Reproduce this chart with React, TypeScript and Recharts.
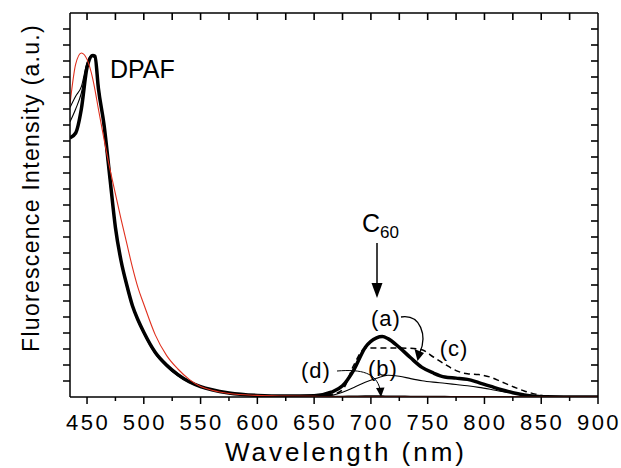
import React from "react";
import { LineChart, Line, XAxis, YAxis, Customized } from "recharts";

// wavelength grid (nm), shared by all spectra
const wavelengths = [
  435, 440, 445, 450, 455, 457, 460, 465, 470, 475, 480, 485, 490, 495, 500, 510, 520, 530, 540, 550,
  560, 575, 600, 625, 650, 665, 675, 685, 695, 705, 710, 715, 725, 735, 745, 755, 765, 775, 785, 795,
  805, 815, 825, 835, 845, 855, 870, 885, 900,
];

// DPAF reference (red)
const dpaf = [
  18.3, 20.8, 21.5, 21.1, 19.9, 19.2, 18.0, 16.1, 14.3, 12.7, 11.1, 9.6, 8.1, 6.8, 5.8, 3.9, 2.6, 1.75, 1.1, 0.65,
  0.42, 0.22, 0.1, 0.06, 0.04, 0.03, 0.03, 0.03, 0.03, 0.03, 0.03, 0.03, 0.03, 0.02, 0.02, 0.02, 0.02, 0.02, 0.02, 0.02,
  0.02, 0.02, 0.02, 0.02, 0.02, 0.02, 0.02, 0.02, 0.02,
];

// (a) thick
const seriesA = [
  16.2, 16.5, 18.0, 20.6, 21.35, 21.3, 19.3, 17.0, 13.8, 10.6, 8.5, 7.0, 5.7, 4.8, 4.05, 2.8, 2.0, 1.4, 0.95, 0.65,
  0.45, 0.25, 0.1, 0.06, 0.08, 0.3, 0.7, 1.7, 3.1, 3.7, 3.78, 3.65, 3.1, 2.45, 1.85, 1.5, 1.25, 1.18, 1.1, 0.9,
  0.68, 0.45, 0.27, 0.13, 0.05, 0.01, 0, 0, 0,
];

// (b) thin
const seriesB = [
  18.1, 18.8, 19.4, 20.9, 21.4, 21.2, 19.6, 16.6, 13.5, 10.5, 8.4, 6.85, 5.6, 4.7, 3.95, 2.7, 1.9, 1.32, 0.9, 0.62,
  0.42, 0.22, 0.09, 0.05, 0.05, 0.1, 0.3, 0.6, 0.92, 1.17, 1.28, 1.36, 1.3, 1.15, 1.02, 0.93, 0.86, 0.78, 0.7, 0.6,
  0.48, 0.35, 0.24, 0.14, 0.06, 0.02, 0, 0, 0,
];

// (c) dashed
const seriesC = [
  16.2, 16.5, 18.0, 20.6, 21.35, 21.3, 19.3, 17.0, 13.8, 10.6, 8.5, 7.0, 5.7, 4.8, 4.05, 2.8, 2.0, 1.4, 0.95, 0.65,
  0.45, 0.25, 0.1, 0.06, 0.07, 0.15, 0.45, 2.0, 3.05, 3.07, 3.07, 3.07, 3.06, 3.04, 2.95, 2.5, 2.05, 1.65, 1.45, 1.4,
  1.25, 0.95, 0.65, 0.38, 0.18, 0.05, 0, 0, 0,
];

// (d) thin
const seriesD = [
  17.2, 18.0, 19.0, 20.8, 21.3, 21.1, 19.5, 16.8, 13.7, 10.7, 8.6, 7.0, 5.75, 4.85, 4.1, 2.85, 2.05, 1.45, 1.0, 0.68,
  0.45, 0.24, 0.1, 0.05, 0.04, 0.04, 0.05, 0.06, 0.07, 0.07, 0.07, 0.06, 0.06, 0.05, 0.05, 0.04, 0.04, 0.03, 0.03, 0.03,
  0.02, 0.02, 0.02, 0.01, 0.01, 0, 0, 0, 0,
];

const xTicks = [450, 475, 500, 525, 550, 575, 600, 625, 650, 675, 700, 725, 750, 775, 800, 825, 850, 875, 900];
const topTicks = [450, 475, 500, 525, 550, 575, 600, 625, 650, 675, 700, 725, 750, 775, 800, 825, 850, 875];
const yTicks = [1, 2, 3, 4, 5, 6, 7, 8, 9, 10, 11, 12, 13, 14, 15, 16, 17, 18, 19, 20, 21, 22, 23];

const data = wavelengths.map((wl, i) => ({
  wl,
  dpaf: dpaf[i],
  a: seriesA[i],
  b: seriesB[i],
  c: seriesC[i],
  d: seriesD[i],
}));

const FONT = "'Liberation Sans', Arial, Helvetica, sans-serif";

// plot frame, matching the chart margins below
const PLOT = { left: 70, right: 598, top: 13, bottom: 397 };
const toX = (nm: number) => PLOT.left + ((nm - 435) / (900 - 435)) * (PLOT.right - PLOT.left);
const toY = (v: number) => PLOT.bottom - (v / 24) * (PLOT.bottom - PLOT.top);

const BottomTick = (props: any) => {
  const { x, y, payload } = props;
  const major = payload.value % 50 === 0;
  return (
    <g>
      <line x1={x} x2={x} y1={y} y2={y + (major ? 7 : 4)} stroke="#000" strokeWidth={1.5} />
      {major && (
        <text x={x + 1} y={y + 33} textAnchor="middle" fontSize={22} letterSpacing={2.5} fontFamily={FONT} fill="#000">
          {payload.value}
        </text>
      )}
    </g>
  );
};

const LeftTick = (props: any) => {
  const { x, y } = props;
  return <line x1={x - 7} x2={x} y1={y} y2={y} stroke="#000" strokeWidth={1.5} />;
};

const Annotations = () => (
  <g fontFamily={FONT} fill="#000">
    {/* inward ticks on the mirrored top / right axes */}
    {topTicks.map((t) => (
      <line key={`t${t}`} x1={toX(t)} x2={toX(t)} y1={PLOT.top} y2={PLOT.top + 7} stroke="#000" strokeWidth={1.6} />
    ))}
    {yTicks.map((t) => (
      <line key={`r${t}`} x1={PLOT.right - 7} x2={PLOT.right} y1={toY(t)} y2={toY(t)} stroke="#000" strokeWidth={1.6} />
    ))}
    <text x={110} y={78} fontSize={25}>DPAF</text>
    <text x={362} y={232} fontSize={25}>
      C<tspan fontSize={17} dy={6}>60</tspan>
    </text>
    <line x1={377} x2={377} y1={243} y2={286} stroke="#000" strokeWidth={1.5} />
    <polygon points="371.5,283 382.5,283 377,298" fill="#000" />
    <text x={386} y={326} fontSize={22} letterSpacing={1} textAnchor="middle">(a)</text>
    <text x={454} y={356} fontSize={22} letterSpacing={1} textAnchor="middle">(c)</text>
    <text x={316} y={378} fontSize={22} letterSpacing={1} textAnchor="middle">(d)</text>
    <text x={383} y={376} fontSize={22} letterSpacing={1} textAnchor="middle">(b)</text>
    <path d="M 401 317 C 421 314, 427 336, 420 352" fill="none" stroke="#000" strokeWidth={1.3} />
    <polygon points="414.5,349 424,353 417.5,361" fill="#000" />
    <path d="M 337 371 C 362 369, 376 373, 380 389" fill="none" stroke="#000" strokeWidth={1} />
    <polygon points="376,388 384.5,387.5 381,397" fill="#000" />
    <text
      transform="translate(39,188) rotate(-90)"
      textAnchor="middle"
      fontSize={23}
      letterSpacing={1.3}
      fontFamily={FONT}
    >
      Fluorescence Intensity (a.u.)
    </text>
    <text x={346} y={461} textAnchor="middle" fontSize={26} letterSpacing={3} fontFamily={FONT}>
      Wavelength (nm)
    </text>
  </g>
);

export default function App() {
  const axisLine = { stroke: "#000", strokeWidth: 1.5 };
  return (
    <div style={{ position: "absolute", left: 0, top: 0, width: 621, height: 468, background: "#fff" }}>
      <LineChart width={621} height={468} data={data} margin={{ top: 12, right: 22, bottom: 41, left: 60 }}>
        <XAxis
          dataKey="wl"
          type="number"
          domain={[435, 900]}
          ticks={xTicks}
          interval={0}
          allowDataOverflow
          height={30}
          tickSize={0}
          tickMargin={0}
          tickLine={false}
          axisLine={axisLine}
          tick={<BottomTick />}
        />
        <XAxis
          xAxisId="top"
          orientation="top"
          dataKey="wl"
          type="number"
          domain={[435, 900]}
          ticks={topTicks}
          allowDataOverflow
          height={1}
          tickLine={false}
          tick={false}
          axisLine={axisLine}
        />
        <YAxis
          type="number"
          domain={[0, 24]}
          ticks={yTicks}
          interval={0}
          allowDataOverflow
          width={10}
          tickSize={0}
          tickMargin={0}
          tickLine={false}
          axisLine={axisLine}
          tick={<LeftTick />}
        />
        <YAxis
          yAxisId="right"
          orientation="right"
          type="number"
          domain={[0, 24]}
          ticks={yTicks}
          allowDataOverflow
          width={1}
          tickLine={false}
          tick={false}
          axisLine={axisLine}
        />
        <Line type="monotone" dataKey="d" stroke="#000" strokeWidth={1.1} dot={false} isAnimationActive={false} />
        <Line type="monotone" dataKey="b" stroke="#000" strokeWidth={1.1} dot={false} isAnimationActive={false} />
        <Line
          type="monotone"
          dataKey="c"
          stroke="#000"
          strokeWidth={1.5}
          strokeDasharray="6 4"
          dot={false}
          isAnimationActive={false}
        />
        <Line type="monotone" dataKey="a" stroke="#000" strokeWidth={3.5} dot={false} isAnimationActive={false} />
        {/* the DPAF reference is plotted against the mirrored (top/right) axes, which share the same domains */}
        <Line
          type="monotone"
          dataKey="dpaf"
          xAxisId="top"
          yAxisId="right"
          stroke="#e0301e"
          strokeWidth={1.1}
          dot={false}
          isAnimationActive={false}
        />
        <Customized component={Annotations} />
      </LineChart>
    </div>
  );
}
